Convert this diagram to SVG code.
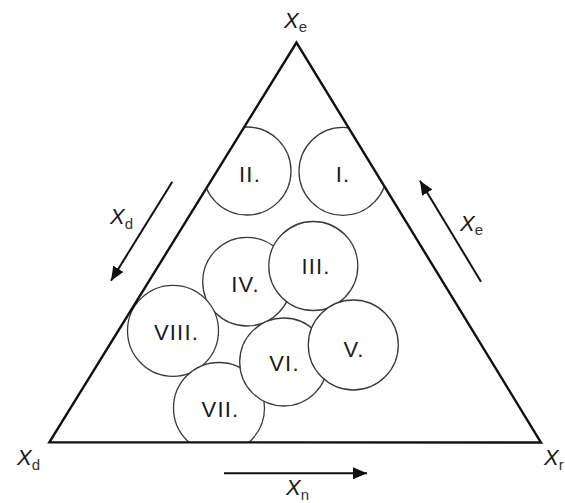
<svg xmlns="http://www.w3.org/2000/svg" width="565" height="503" viewBox="0 0 565 503">
<style>
.c{fill:#fff;stroke:#3a3a3a;stroke-width:1.3}
.n{font-family:"Liberation Sans",Arial,sans-serif;font-size:22px;fill:#1a1a1a;text-anchor:middle;letter-spacing:1.2px}
.x{font-family:"Liberation Sans",Arial,sans-serif;font-size:22px;font-style:italic;fill:#1a1a1a}
.s{font-family:"Liberation Sans",Arial,sans-serif;font-size:15px;font-style:normal;fill:#333}
.a{stroke:#111;stroke-width:2;fill:none;marker-end:url(#ah)}
</style>
<defs>
<clipPath id="tri"><polygon points="296.5,42.5 49.3,442.3 541,442.5"/></clipPath>
<marker id="ah" markerUnits="userSpaceOnUse" markerWidth="16" markerHeight="12" refX="14" refY="6" orient="auto"><path d="M0,0 L14,6 L0,12 Z" fill="#111"/></marker>
</defs>
<rect width="565" height="503" fill="#fff"/>
<g clip-path="url(#tri)">
<g id="node-I"><circle class="c" cx="343" cy="171.3" r="44"/><text class="n" x="343" y="182">I.</text></g>
<g id="node-II"><circle class="c" cx="247" cy="171" r="44"/><text class="n" x="250" y="182">II.</text></g>
<g id="node-IV"><circle class="c" cx="247" cy="281.7" r="44.3"/><text class="n" x="245.5" y="292">IV.</text></g>
<g id="node-III"><circle class="c" cx="313.3" cy="266" r="44.5"/><text class="n" x="316" y="274">III.</text></g>
<g id="node-VIII"><circle class="c" cx="173" cy="330.8" r="45.5"/><text class="n" x="176.5" y="340">VIII.</text></g>
<g id="node-VII"><circle class="c" cx="219" cy="408" r="45.5"/><text class="n" x="220.5" y="417">VII.</text></g>
<g id="node-VI"><circle class="c" cx="283.7" cy="362" r="44"/><text class="n" x="284.5" y="371">VI.</text></g>
<g id="node-V"><circle class="c" cx="353.3" cy="345" r="45"/><text class="n" x="354" y="357">V.</text></g>
</g>
<g id="triangle"><polygon points="296.5,42.5 49.3,442.3 541,442.5" fill="none" stroke="#111" stroke-width="2.4" stroke-linejoin="miter"/></g>
<g id="connectors">
<line class="a" x1="172.3" y1="181.7" x2="111" y2="280.7"/>
<line class="a" x1="481" y1="281.7" x2="420" y2="180.7"/>
<line class="a" x1="224" y1="473.3" x2="367" y2="473.3"/>
</g>
<g id="labels">
<text class="x" x="284" y="28">X<tspan class="s" dy="4">e</tspan></text>
<text class="x" x="110" y="224">X<tspan class="s" dy="5">d</tspan></text>
<text class="x" x="460" y="230.5">X<tspan class="s" dy="4.5">e</tspan></text>
<text class="x" x="17" y="465">X<tspan class="s" dy="5">d</tspan></text>
<text class="x" x="544" y="465">X<tspan class="s" dy="5">r</tspan></text>
<text class="x" x="286" y="495">X<tspan class="s" dy="5">n</tspan></text>
</g>
</svg>
